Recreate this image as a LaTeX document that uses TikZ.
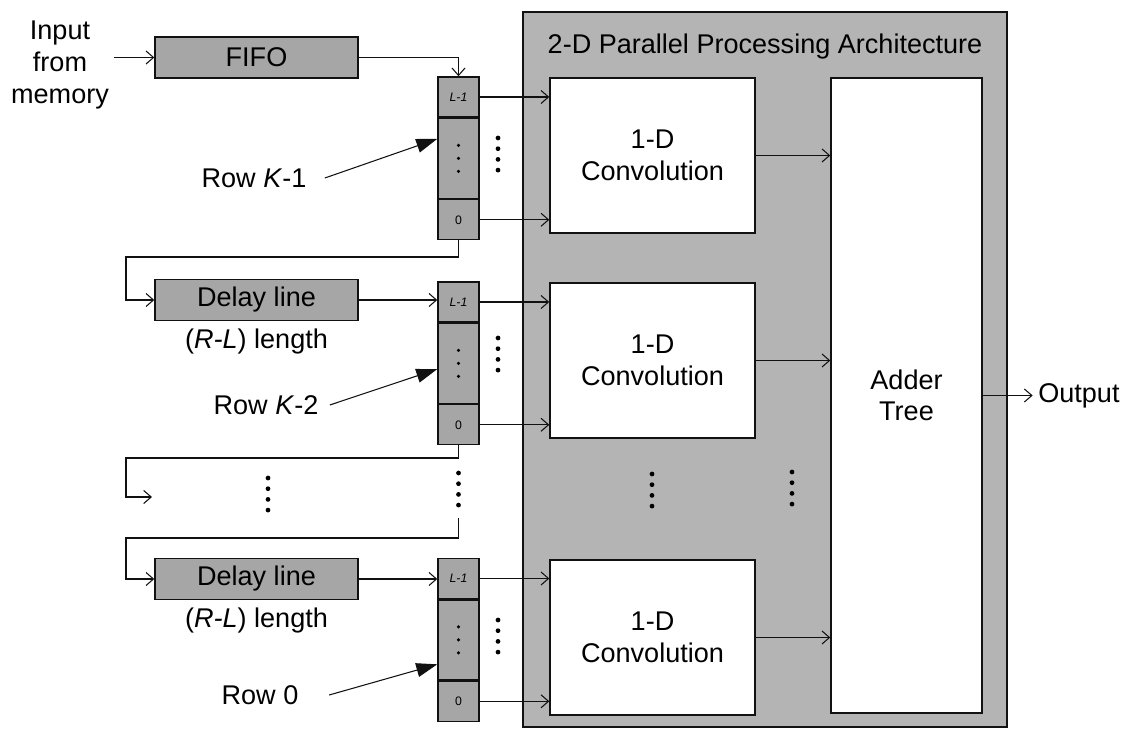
\documentclass[tikz,border=0pt]{standalone}
\usepackage{fontspec}
\setmainfont{Liberation Sans}
\usepackage{xcolor}
\definecolor{cPanel}{HTML}{B4B4B4}
\definecolor{cCell}{HTML}{A6A6A6}
\definecolor{cLine}{HTML}{111111}
\usepackage{tikz}
\usetikzlibrary{positioning,arrows.meta,calc}
\tikzset{
  node-panel/.style={draw=cLine,line width=0.7pt,fill=cPanel},
  node-line/.style={draw=cLine,thick,fill=cCell,minimum width=4.06cm,
    minimum height=0.82cm,inner sep=0pt},
  node-cell/.style={draw=cLine,thick,fill=cCell,minimum width=0.82cm,
    inner sep=0pt,font=\fontsize{7}{8}\selectfont},
  node-conv/.style={draw=cLine,thick,fill=white,minimum width=4.1cm,
    minimum height=3.1cm,align=center},
  node-adder/.style={draw=cLine,thick,fill=white,minimum width=3.02cm,
    minimum height=12.7cm,align=center},
  node-label/.style={align=center,inner sep=3pt},
  arrow/.style={-{Straight Barb[length=1.5mm,width=2.6mm]},line width=0.6pt,draw=cLine},
  wire/.style={line width=0.6pt,draw=cLine},
  arrow-row/.style={-{Triangle[length=4.2mm,width=2.8mm]},line width=0.6pt,draw=cLine},
}

\begin{document}
\begin{tikzpicture}[x=0.02cm,y=-0.02cm,font=\fontsize{15.4}{18}\selectfont]
  \useasboundingbox (0,0) rectangle (1129,729);
  % architecture panel
  \draw[node-panel] (523,12) rectangle (1007,727);
  \node (title) at (765,47) {2-D Parallel Processing Architecture};
  \node[node-conv] (conv1) at (652.5,155.5) {1-D\\Convolution};
  \node[node-conv] (conv2) at (652.5,360.5) {1-D\\Convolution};
  \node[node-conv] (conv3) at (652.5,637.5) {1-D\\Convolution};
  \node[node-adder] (adder) at (906.5,395.5) {Adder\\Tree};
  \node[right=1cm of adder.east,anchor=west,inner sep=3pt] (out) {Output};

  % input side
  \node[node-label] (input) at (60,65) {Input\\from\\memory};
  \node[node-line] (fifo) at (256.5,57.5) {FIFO};
  \node[node-line] (delay1) at (256.5,300) {Delay line};
  \node[node-line] (delay3) at (256.5,579) {Delay line};
  \node[below=1pt of delay1] (len1) {(\textit{R-L}) length};
  \node[below=1pt of delay3] (len3) {(\textit{R-L}) length};

  % register columns
  \foreach \i/\y in {1/97,2/302,3/578.5} {
    \node[node-cell,minimum height=0.8cm] (r\i top) at (458.5,\y) {\textit{L-1}};
    \node[node-cell,minimum height=1.6cm,below=0pt of r\i top] (r\i mid) {};
    \node[node-cell,minimum height=0.8cm,below=0pt of r\i mid] (r\i bot) {0};
    \foreach \k in {-1,0,1}
      \fill ([yshift=\k*7.4pt]r\i mid.center) circle (1pt);
  }
  \node (row1) at (254,178) {Row \textit{K}-1};
  \node (row2) at (266,405) {Row \textit{K}-2};
  \node (row3) at (260,695) {Row 0};

  % vertical dots
  \foreach \x/\y in {498/138,498/338,498/620,268/478,458.5/473,652/474,792/472}
    \foreach \k in {0,...,3}
      \fill (\x,\y+\k*10.7) circle (1.35pt);

  \coordinate (loop1) at (126,257);
  \coordinate (loop2) at (126,458);
  \coordinate (gap-in) at (152,497);
  \coordinate (gap-out) at (458.5,518);
  \coordinate (loop3) at (126,538);

  \draw[arrow] (fifo.west -| input.east) -- (fifo.west);
  \draw[arrow] (fifo.east) -| (r1top.north);
  \draw[arrow] (r1bot.south) |- (loop1) |- (delay1.west);
  \draw[arrow] (delay1.east) -- (delay1.east -| r2top.west);
  \draw[arrow] (r2bot.south) |- (loop2) |- (gap-in);
  \draw[arrow] (gap-out) |- (loop3) |- (delay3.west);
  \draw[arrow] (delay3.east) -- (delay3.east -| r3top.west);
  \foreach \i in {1,2,3} {
    \draw[arrow] (r\i top.east) -- (r\i top.east -| conv\i.west);
    \draw[arrow] (r\i bot.east) -- (r\i bot.east -| conv\i.west);
    \draw[arrow] (conv\i.east) -- (conv\i.east -| adder.west);
  }
  \draw[arrow] (adder.east) -- (out.west);

  \draw[arrow-row] ([xshift=7pt]row1.east) -- ($(r1mid.north west)!0.26!(r1mid.south west)$);
  \draw[arrow-row] ([xshift=3pt]row2.east) -- ($(r2mid.north west)!0.57!(r2mid.south west)$);
  \draw[arrow-row] ([xshift=14pt]row3.east) -- ($(r3mid.north west)!0.8!(r3mid.south west)$);
\end{tikzpicture}
\end{document}
